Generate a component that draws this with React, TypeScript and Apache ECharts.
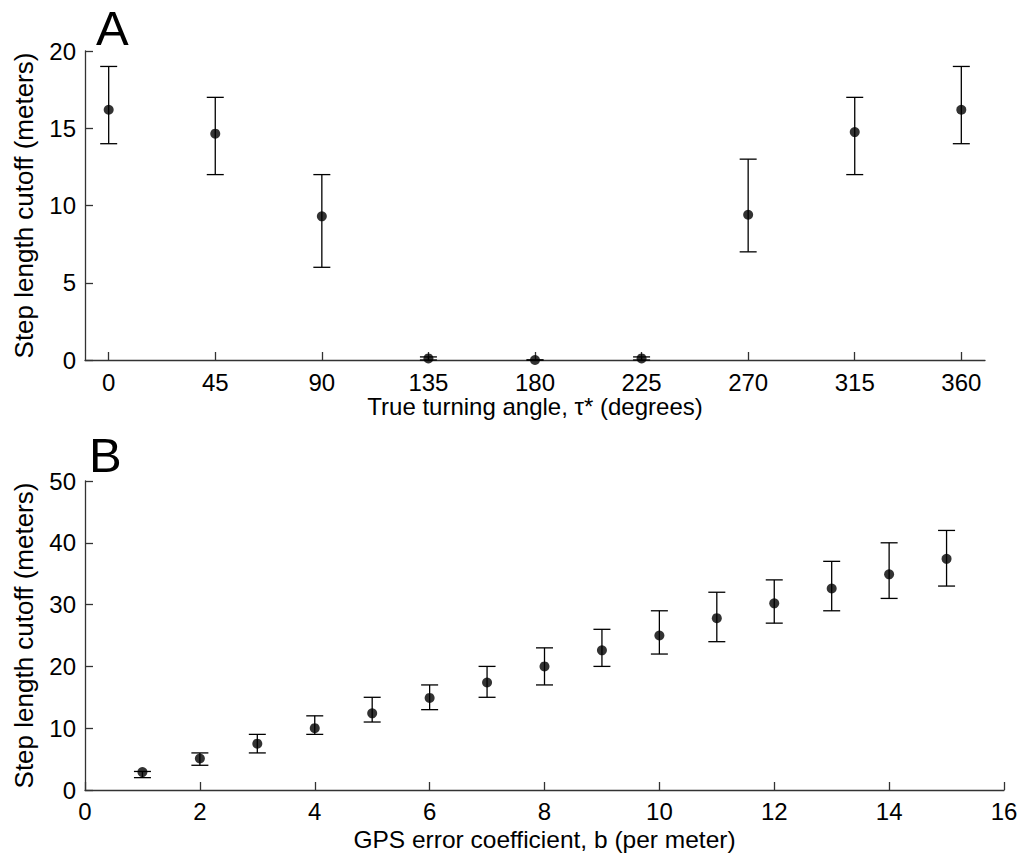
import React, { useEffect, useRef } from "react";
import * as echarts from "echarts";

const angleTicks = [0, 45, 90, 135, 180, 225, 270, 315, 360];
const angleMean = [16.2, 14.65, 9.3, 0.1, 0, 0.1, 9.4, 14.75, 16.2];
const angleLow = [14, 12, 6, 0, 0, 0, 7, 12, 14];
const angleHigh = [19, 17, 12, 0.2, 0, 0.2, 13, 17, 19];

const gpsB = [1, 2, 3, 4, 5, 6, 7, 8, 9, 10, 11, 12, 13, 14, 15];
const gpsMean = [2.9, 5.1, 7.5, 10, 12.4, 14.9, 17.4, 20, 22.6, 25, 27.8, 30.2, 32.6, 34.9, 37.4];
const gpsLow = [2, 4, 6, 9, 11, 13, 15, 17, 20, 22, 24, 27, 29, 31, 33];
const gpsHigh = [3, 6, 9, 12, 15, 17, 20, 23, 26, 29, 32, 34, 37, 40, 42];

const FONT = "'Liberation Sans', Arial, Helvetica, sans-serif";
const AXIS_COLOR = "#333";
const FS = 24;
const YNAME_FS = 26;

function errRender(params: any, api: any) {
  const x = api.value(0);
  const lo = api.value(1);
  const hi = api.value(2);
  const pLo = api.coord([x, lo]);
  const pHi = api.coord([x, hi]);
  const hw = 8.5;
  const st = { stroke: "#000", lineWidth: 1.3 };
  return {
    type: "group",
    children: [
      { type: "line", shape: { x1: pLo[0], y1: pLo[1], x2: pHi[0], y2: pHi[1] }, style: st },
      { type: "line", shape: { x1: pLo[0] - hw, y1: pLo[1], x2: pLo[0] + hw, y2: pLo[1] }, style: st },
      { type: "line", shape: { x1: pHi[0] - hw, y1: pHi[1], x2: pHi[0] + hw, y2: pHi[1] }, style: st },
    ],
  };
}

export default function App() {
  const ref = useRef<HTMLDivElement>(null);
  useEffect(() => {
    if (!ref.current) return;
    const chart = echarts.init(ref.current, null, { renderer: "svg" });
    const axisCommon = {
      axisLine: { show: true, onZero: false, lineStyle: { color: AXIS_COLOR, width: 1.3 } },
      axisTick: { show: true, inside: true, length: 8, lineStyle: { color: AXIS_COLOR, width: 1.3 } },
      splitLine: { show: false },
      nameTextStyle: { fontFamily: FONT, fontSize: FS, color: "#000" },
    };
    const yNameStyle = { fontFamily: FONT, fontSize: YNAME_FS, color: "#000" };
    const labelCommon = { fontFamily: FONT, fontSize: FS, color: "#000" };
    chart.setOption({
      animation: false,
      backgroundColor: "#fff",
      grid: [
        { left: 85, right: 38, top: 51, bottom: 500 },
        { left: 85, right: 19, top: 481, bottom: 70 },
      ],
      xAxis: [
        {
          ...axisCommon,
          gridIndex: 0,
          type: "value",
          min: -10,
          max: 370,
          name: "True turning angle, \u03c4* (degrees)",
          nameLocation: "middle",
          nameGap: 31,
          axisTick: { ...axisCommon.axisTick, customValues: angleTicks },
          axisLabel: { ...labelCommon, margin: 10, customValues: angleTicks },
        },
        {
          ...axisCommon,
          gridIndex: 1,
          type: "value",
          min: 0,
          max: 16,
          interval: 2,
          name: "GPS error coefficient, b (per meter)",
          nameLocation: "middle",
          nameGap: 37,
          nameTextStyle: { fontFamily: FONT, fontSize: 24.5, color: "#000" },
          axisLabel: { ...labelCommon, margin: 9 },
        },
      ],
      yAxis: [
        {
          ...axisCommon,
          gridIndex: 0,
          type: "value",
          min: 0,
          max: 20,
          interval: 5,
          name: "Step length cutoff (meters)",
          nameLocation: "middle",
          nameGap: 48,
          nameTextStyle: yNameStyle,
          axisLabel: { ...labelCommon, margin: 9 },
        },
        {
          ...axisCommon,
          gridIndex: 1,
          type: "value",
          min: 0,
          max: 50,
          interval: 10,
          name: "Step length cutoff (meters)",
          nameLocation: "middle",
          nameGap: 48,
          nameTextStyle: yNameStyle,
          axisLabel: { ...labelCommon, margin: 9 },
        },
      ],
      series: [
        {
          type: "custom",
          xAxisIndex: 0,
          yAxisIndex: 0,
          renderItem: errRender,
          encode: { x: 0, y: [1, 2] },
          data: angleTicks.map((a, i) => [a, angleLow[i], angleHigh[i]]),
          clip: false,
          z: 2,
        },
        {
          type: "scatter",
          xAxisIndex: 0,
          yAxisIndex: 0,
          symbol: "circle",
          symbolSize: 10,
          itemStyle: { color: "#000" },
          data: angleTicks.map((a, i) => [a, angleMean[i]]),
          z: 3,
        },
        {
          type: "custom",
          xAxisIndex: 1,
          yAxisIndex: 1,
          renderItem: errRender,
          encode: { x: 0, y: [1, 2] },
          data: gpsB.map((b, i) => [b, gpsLow[i], gpsHigh[i]]),
          clip: false,
          z: 2,
        },
        {
          type: "scatter",
          xAxisIndex: 1,
          yAxisIndex: 1,
          symbol: "circle",
          symbolSize: 10,
          itemStyle: { color: "#000" },
          data: gpsB.map((b, i) => [b, gpsMean[i]]),
          z: 3,
        },
      ],
      graphic: [
        {
          type: "text",
          x: 96,
          y: 28,
          style: {
            text: "A",
            fontFamily: FONT,
            fontSize: 49,
            lineHeight: 40,
            fill: "#000",
            align: "left",
            verticalAlign: "middle",
          },
        },
        {
          type: "text",
          x: 89,
          y: 455,
          style: {
            text: "B",
            fontFamily: FONT,
            fontSize: 49,
            lineHeight: 40,
            fill: "#000",
            align: "left",
            verticalAlign: "middle",
          },
        },
      ],
    });
    return () => chart.dispose();
  }, []);
  return (
    <div
      ref={ref}
      style={{ position: "fixed", left: 0, top: 0, width: 1023, height: 860, background: "#fff" }}
    />
  );
}
